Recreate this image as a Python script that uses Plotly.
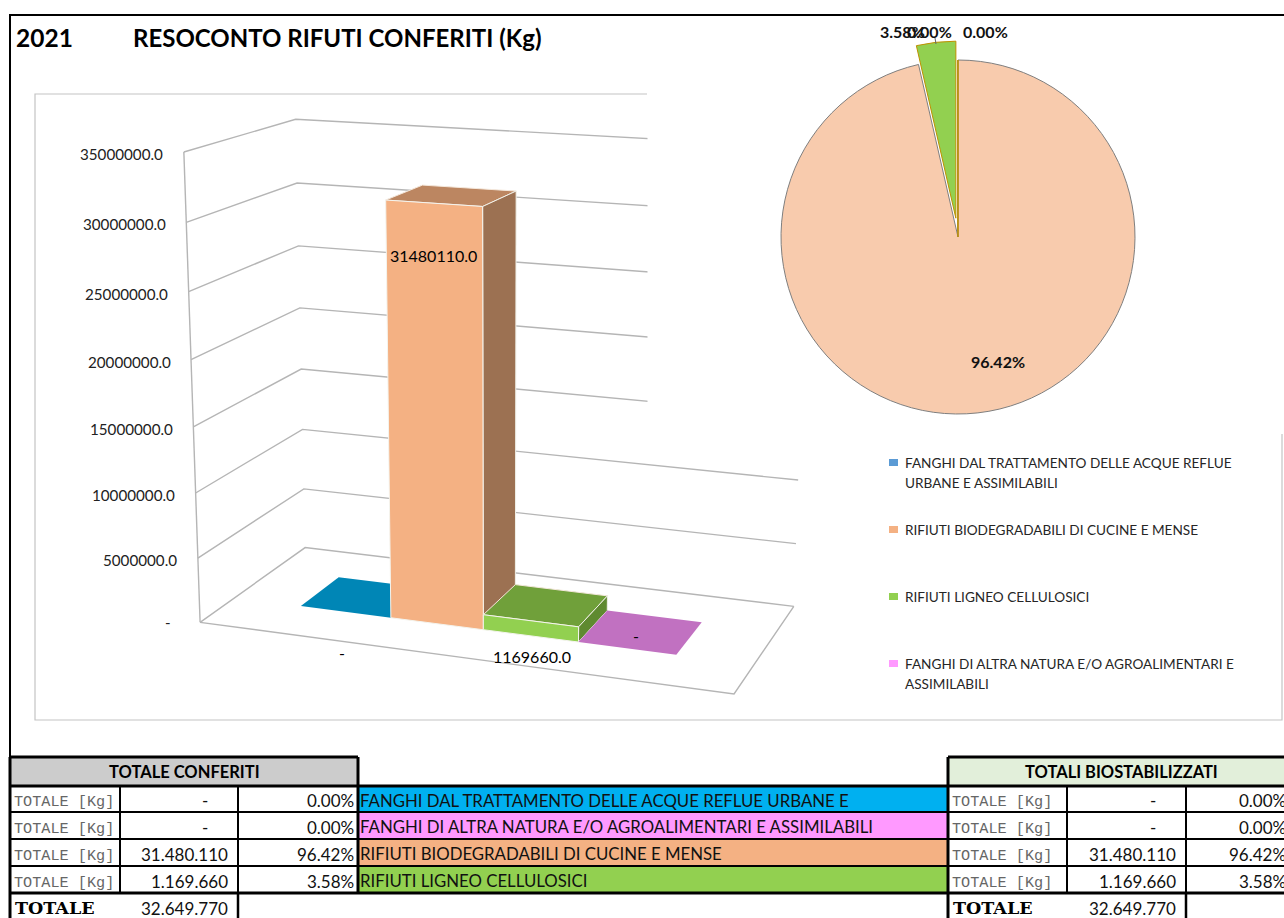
import numpy as np
import plotly.graph_objects as go

# ---------- data ----------
year = "2021"
title = "RESOCONTO RIFUTI CONFERITI (Kg)"
bar_categories = ["FANGHI DAL TRATTAMENTO DELLE ACQUE REFLUE URBANE E ASSIMILABILI",
                  "RIFIUTI BIODEGRADABILI DI CUCINE E MENSE",
                  "RIFIUTI LIGNEO CELLULOSICI",
                  "FANGHI DI ALTRA NATURA E/O AGROALIMENTARI E ASSIMILABILI"]
bar_values = [0, 31480110, 1169660, 0]
y_ticks = [0, 5000000, 10000000, 15000000, 20000000, 25000000, 30000000, 35000000]
legend_lines = [["FANGHI DAL TRATTAMENTO DELLE ACQUE REFLUE", "URBANE E ASSIMILABILI"],
                ["RIFIUTI BIODEGRADABILI DI CUCINE E MENSE"],
                ["RIFIUTI LIGNEO CELLULOSICI"],
                ["FANGHI DI ALTRA NATURA E/O AGROALIMENTARI E", "ASSIMILABILI"]]
table_names = ["FANGHI DAL TRATTAMENTO DELLE ACQUE REFLUE URBANE E",
               "FANGHI DI ALTRA NATURA E/O AGROALIMENTARI E ASSIMILABILI",
               "RIFIUTI BIODEGRADABILI DI CUCINE E MENSE",
               "RIFIUTI LIGNEO CELLULOSICI"]
table_values = [0, 0, 31480110, 1169660]
table_pcts = [0.00, 0.00, 96.42, 3.58]
table_total = 32649770

# ---------- style ----------
SANS = "Lato"
MONO = "Liberation Mono"
GRID = "#b5b5b5"
front = ["#00B0F0", "#F4B183", "#92D050", "#FF99FF"]
top = ["#0086B6", "#BC8661", "#70A03A", "#C171C1"]
side = ["#0070A0", "#9C7152", "#5F8A30", "#A060A0"]
band = ["#00B0F0", "#FF99FF", "#F4B183", "#92D050"]
legend_sw = ["#5B9BD5", "#F4B183", "#92D050", "#FF99FF"]
pie_colors = ["#5B9BD5", "#F8CBAD", "#92D050", "#FF99FF"]
pie_edges = ["#BF9000", "#7F7F7F", "#BF9000", "#BF9000"]

# ---------- fake-3D camera fitted to the drawing's floor and walls ----------
anchors = [((0, 0, 0), (201, 623)), ((0, 1, 0), (305, 547)), ((1, 1, 0), (793, 606)), ((1, 0, 0), (734, 694)),
           ((0, 0, 1), (184, 153)), ((0, 1, 1), (296, 119)), ((1, 1, 2/7), (798, 480)), ((0, 1, 2/7), (302, 430)),
           ((0, 0, 4/7), (190, 358)), ((0, 1, 4/7), (300, 308)), ((1, 1, 1/7), (797, 544)), ((0, 1, 1/7), (304, 489))]
A = []
for (u, d, h), (px, py) in anchors:
    X = [u, d, h, 1]
    px, py = px / 1000, py / 1000
    A.append(X + [0, 0, 0, 0] + [-px * c for c in X])
    A.append([0, 0, 0, 0] + X + [-py * c for c in X])
CAM = np.linalg.svd(np.array(A))[2][-1].reshape(3, 4)


def proj(u, d, v):
    p = CAM @ np.array([u, d, v / max(y_ticks), 1.0])
    return 1000 * p[0] / p[2], 1000 * p[1] / p[2]


def poly(points, fill=None, line=None, width=1.0):
    xs, ys = zip(*points)
    return go.Scatter(x=list(xs), y=list(ys), mode="lines", hoverinfo="skip", showlegend=False,
                      fill="toself" if fill else "none", fillcolor=fill,
                      line=dict(color=line or "rgba(0,0,0,0)", width=width if line else 0))


fig = go.Figure()
W, H = 1284, 918
shapes, notes = [], []


def text(x, y, s, size=13, color="#000", bold=False, anchor="left", family=SANS, xs=0, ys=0):
    notes.append(dict(x=x, y=y, xref="x", yref="y", text=f"<b>{s}</b>" if bold else s, showarrow=False,
                      xanchor=anchor, yanchor="middle", xshift=xs, yshift=-ys, borderpad=0, borderwidth=0,
                      font=dict(family=family, size=size, color=color)))


def seg(x0, y0, x1, y1, color="#000", width=2.0):
    shapes.append(dict(type="line", x0=x0, y0=y0, x1=x1, y1=y1, xref="x", yref="y",
                       line=dict(color=color, width=width), layer="above"))


def rect(x0, y0, x1, y1, color):
    shapes.append(dict(type="rect", x0=x0, y0=y0, x1=x1, y1=y1, xref="x", yref="y",
                       fillcolor=color, line=dict(width=0), layer="below"))


# chart frame
fig.add_trace(poly([(647, 94), (35, 94), (35, 720), (1282, 720), (1282, 434)], line="#c4c4c4", width=1.2))

# walls + floor
vmax = max(y_ticks)
for v in y_ticks:
    fig.add_trace(poly([proj(0, 0, v), proj(0, 1, v), proj(1, 1, v)], line=GRID, width=1.4))
fig.add_trace(poly([proj(0, 0, 0), proj(0, 0, vmax)], line=GRID, width=1.4))
fig.add_trace(poly([proj(1, 1, 0), proj(1, 0, 0), proj(0, 0, 0)], line=GRID, width=1.4))

# the pie's white panel covers the right end of the upper gridlines
fig.add_trace(poly([(647.5, 16), (1284, 16), (1284, 433), (647.5, 433)], fill="#ffffff"))

# bars
U0, UW, D0, D1 = 0.136, 0.181, 0.31, 0.69
for i, v in enumerate(bar_values):
    a, b = U0 + i * UW, U0 + (i + 1) * UW
    fig.add_trace(poly([proj(a, D0, v), proj(b, D0, v), proj(b, D1, v), proj(a, D1, v), proj(a, D0, v)],
                       fill=top[i], line="#f4e8dc" if v else None, width=1.0))
    if v:
        fig.add_trace(poly([proj(b, D0, 0), proj(b, D1, 0), proj(b, D1, v), proj(b, D0, v), proj(b, D0, 0)],
                           fill=side[i], line="#f0f0e8", width=1.0))
        fig.add_trace(poly([proj(a, D0, 0), proj(b, D0, 0), proj(b, D0, v), proj(a, D0, v), proj(a, D0, 0)],
                           fill=front[i], line="#f4f4ee", width=1.0))

# axis labels
for v in y_ticks:
    x, y = proj(0, 0, v)
    if v:
        text(x, y, f"{v:.1f}", size=15.2, anchor="right", xs=-20.5, ys=2, color="#222")
    else:
        text(x, y, "-", size=15, anchor="right", xs=-29, color="#222")

# data labels
label_off = [(-4, 41), (0, 52), (1, 36), (9, -13)]
for i, v in enumerate(bar_values):
    a, b = U0 + i * UW, U0 + (i + 1) * UW
    x, y = proj((a + b) / 2, D0, v)
    text(x, y, f"{v:.1f}" if v else "-", size=16, anchor="center", xs=label_off[i][0], ys=label_off[i][1])

# pie
cx, cy, pull = 958, 237, 0.107
half = 177 * (1 + pull)
fig.add_trace(go.Pie(values=bar_values, labels=bar_categories, sort=False, direction="clockwise", rotation=0,
                     pull=[0, 0, pull, 0], textinfo="none", showlegend=False, hoverinfo="label+percent",
                     marker=dict(colors=pie_colors, line=dict(color=pie_edges, width=1)),
                     domain=dict(x=[(cx - half) / W, (cx + half) / W], y=[1 - (cy + half) / H, 1 - (cy - half) / H])))

total = sum(bar_values)
pct_pos = [(929, 31), (998, 361), (902, 31), (985, 31)]
for (x, y), v in zip(pct_pos, bar_values):
    text(x, y, f"{100 * v / total:.2f}%", size=16, bold=True, anchor="center", color="#111")
seg(935, 38, 936, 44, color="#666", width=1)

# legend
legend_rows = [463, 530, 597, 664]
for names, y, col in zip(legend_lines, legend_rows, legend_sw):
    rect(889, y - 4, 898, y + 3, col)
    for k, s in enumerate(names):
        text(905, y + 20 * k, s, size=13.6, color="#262626")

# title + page border
text(16, 37, year, size=24.5, bold=True)
text(133, 37, title, size=24, bold=True)
seg(9, 15, W, 15, width=2)
seg(10, 15, 10, 757, width=2)

# tables
COLS = [(10, 120, 238, 358), (948, 1067, 1186, 1290)]
ROWS = [786, 812, 839, 866, 893]
for (c0, c1, c2, c3), hdr, head in zip(COLS, ["#CCCCCC", "#E2EFDA"], ["TOTALE CONFERITI", "TOTALI BIOSTABILIZZATI"]):
    rect(c0, 757, c3, 785, hdr)
    text((c0 + c3) / 2 if c3 < W else 1121, 772, head, size=16.5, bold=True, anchor="center")
    for r in range(4):
        ym = (ROWS[r] + ROWS[r + 1]) / 2 + 1.5
        val = table_values[r]
        text(c0 + 4, ym + 1.5, "TOTALE [Kg]", size=15.2, family=MONO, color="#666")
        if val:
            text(c2 - 10, ym, f"{val:,}".replace(",", "."), size=17, anchor="right", color="#111")
        else:
            text(c2 - 30, ym, "-", size=17, anchor="right", color="#111")
        text(min(c3 - 4, W - 1), ym, f"{table_pcts[r]:.2f}%", size=17, anchor="right", color="#111",
             xs=3 if c3 > W else 0)
    for x in (c1, c2):
        seg(x, 786, x, 893, width=2)
    text(c0 + 5, 908, "TOTALE", size=17.5, bold=True, family="DejaVu Serif")
    text(c2 - 10, 908, f"{table_total:,}".replace(",", "."), size=17, anchor="right", color="#111")
    seg(c2, 893, c2, 918, width=2.5)
    seg(c0, 757, c3, 757, width=3)
    seg(c0, 757, c0, 918, width=3)
    seg(c3, 757, c3, 893, width=3)

for r, (name, col) in enumerate(zip(table_names, band)):
    rect(358, ROWS[r], 948, ROWS[r + 1], col)
    text(360, (ROWS[r] + ROWS[r + 1]) / 2 + 1, name, size=16.8, color="#111")
for y, w in zip(ROWS, [3, 2, 2, 2, 3]):
    seg(10, y, W, y, width=w)

fig.update_layout(width=W, height=H, margin=dict(l=0, r=0, t=0, b=0), paper_bgcolor="#fff", plot_bgcolor="#fff",
                  xaxis=dict(range=[0, W], visible=False, fixedrange=True),
                  yaxis=dict(range=[H, 0], visible=False, fixedrange=True),
                  showlegend=False, shapes=shapes, annotations=notes)
fig.write_html("out.html", config=dict(displayModeBar=False),
               post_script="document.body.style.margin='0';document.body.style.overflow='hidden';")
